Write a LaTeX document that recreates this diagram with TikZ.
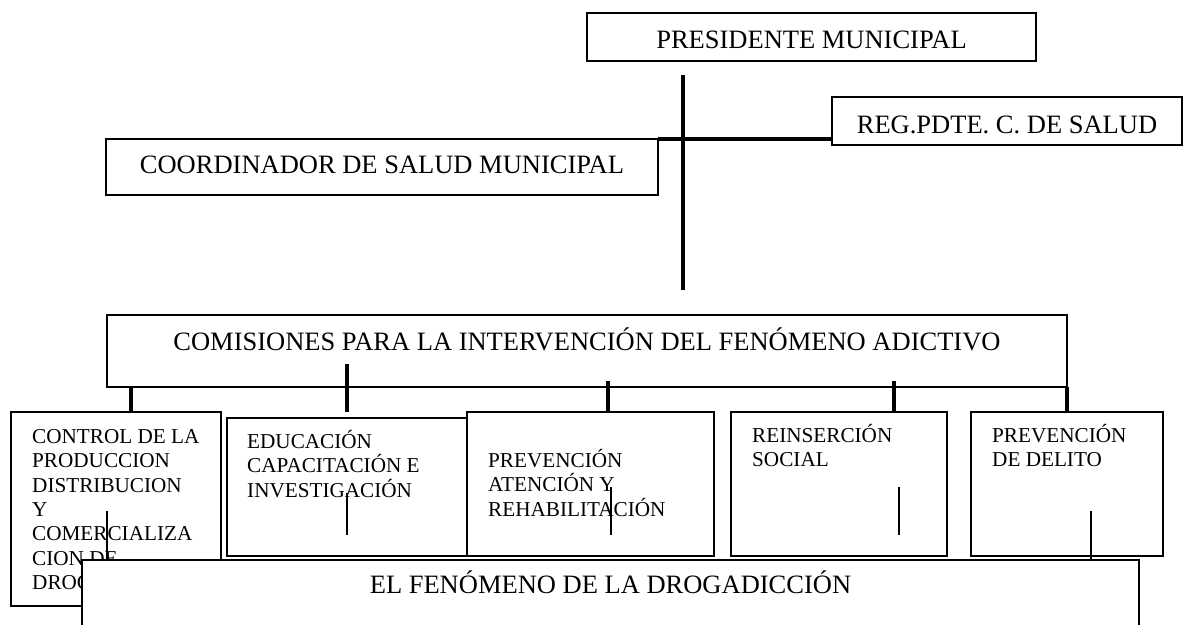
\documentclass[tikz,border=0pt]{standalone}
\usepackage{fontspec}
\setmainfont{Liberation Serif}
\newcommand\mybigfont{\fontsize{26.5}{30}\selectfont}
\newcommand\mysmallfont{\fontsize{21.2}{24.4}\selectfont}
\begin{document}
\begin{tikzpicture}[x=1pt,y=-1pt,
  bx/.style={draw, rectangle, line width=1.6pt, fill=white, inner sep=0pt, outer sep=0pt, anchor=north west},
  big/.style={bx, font=\mybigfont},
  txt/.style={font=\mysmallfont, align=left, inner sep=0pt, anchor=north west, xshift=21pt, yshift=-11pt},
  thickln/.style={line width=4pt},
  thinln/.style={line width=1.5pt}]
\useasboundingbox (0,0) rectangle (1189,624);
\clip (0,0) rectangle (1189,624);

% top level
\node[big, minimum width=449pt, minimum height=48pt, text height=22pt, text depth=0pt] (pres) at (587,13) {PRESIDENTE MUNICIPAL};
\node[big, minimum width=350pt, minimum height=48pt, text height=24pt, text depth=0pt] (reg) at (832,97) {REG.PDTE. C. DE SALUD};
\node[big, minimum width=552pt, minimum height=56pt, text height=12pt, text depth=0pt] (coord) at (106,139) {COORDINADOR DE SALUD MUNICIPAL};
\node[big, minimum width=960pt, minimum height=72pt, text height=0pt, text depth=2pt] (com) at (107,315) {COMISIONES PARA LA INTERVENCIÓN DEL FENÓMENO ADICTIVO};

\coordinate (vtop) at (683,75);
\coordinate (vbot) at (683,290);
\draw[thickln] (vtop) -- (vbot);
\draw[thickln] (coord.north east) -- (coord.north east -| reg.west);

% commissions
\node[bx, minimum width=210pt, minimum height=194pt,
  label={[txt]north west:{\rule{0pt}{20pt}CONTROL DE LA\\PRODUCCION\\DISTRIBUCION\\Y\\COMERCIALIZA\\CION DE\\DROGAS}}] (ctrl) at (11,412) {};
\node[bx, minimum width=240pt, minimum height=138pt,
  label={[txt, xshift=-1pt, yshift=1pt]north west:{\rule{0pt}{20pt}EDUCACIÓN\\CAPACITACIÓN E\\INVESTIGACIÓN}}] (edu) at (227,418) {};
\node[bx, minimum width=247pt, minimum height=144pt,
  label={[txt, yshift=-24pt]north west:{\rule{0pt}{20pt}PREVENCIÓN\\ATENCIÓN Y\\REHABILITACIÓN}}] (prev) at (467,412) {};
\node[bx, minimum width=216pt, minimum height=144pt,
  label={[txt, yshift=1pt]north west:{\rule{0pt}{20pt}REINSERCIÓN\\SOCIAL}}] (reins) at (731,412) {};
\node[bx, minimum width=192pt, minimum height=144pt,
  label={[txt, yshift=1pt]north west:{\rule{0pt}{20pt}PREVENCIÓN\\DE DELITO}}] (del) at (971,412) {};

% stubs
\draw[thickln] ([xshift=24pt]com.south west) coordinate (s1) -- (s1 |- ctrl.north);
\draw[thickln] ([xshift=240pt,yshift=23pt]com.south west) coordinate (s2) -- (s2 |- ctrl.north);
\draw[thickln] ([xshift=501pt,yshift=6pt]com.south west) coordinate (s3) -- (s3 |- prev.north);
\draw[thickln] ([xshift=787pt,yshift=6pt]com.south west) coordinate (s4) -- (s4 |- reins.north);
\draw[thickln] (com.south east) -- (com.south east |- del.north);

% thin strokes inside boxes
\draw[thinln] ([xshift=120pt,yshift=-75pt]edu.north west) -- ++(0,42);
\draw[thinln] ([xshift=144pt,yshift=-75pt]prev.north west) -- ++(0,48);
\draw[thinln] ([xshift=168pt,yshift=-75pt]reins.north west) -- ++(0,48);

% bottom box
\node[big, minimum width=1057pt, minimum height=100pt, text height=0pt, text depth=34pt] (bot) at (82,560) {EL FENÓMENO DE LA DROGADICCIÓN};
\draw[thinln] ([xshift=96pt,yshift=-99pt]ctrl.north west) coordinate (t1) -- (t1 |- bot.north);
\draw[thinln] ([xshift=120pt,yshift=-99pt]del.north west) coordinate (t5) -- (t5 |- bot.north);
\end{tikzpicture}
\end{document}
